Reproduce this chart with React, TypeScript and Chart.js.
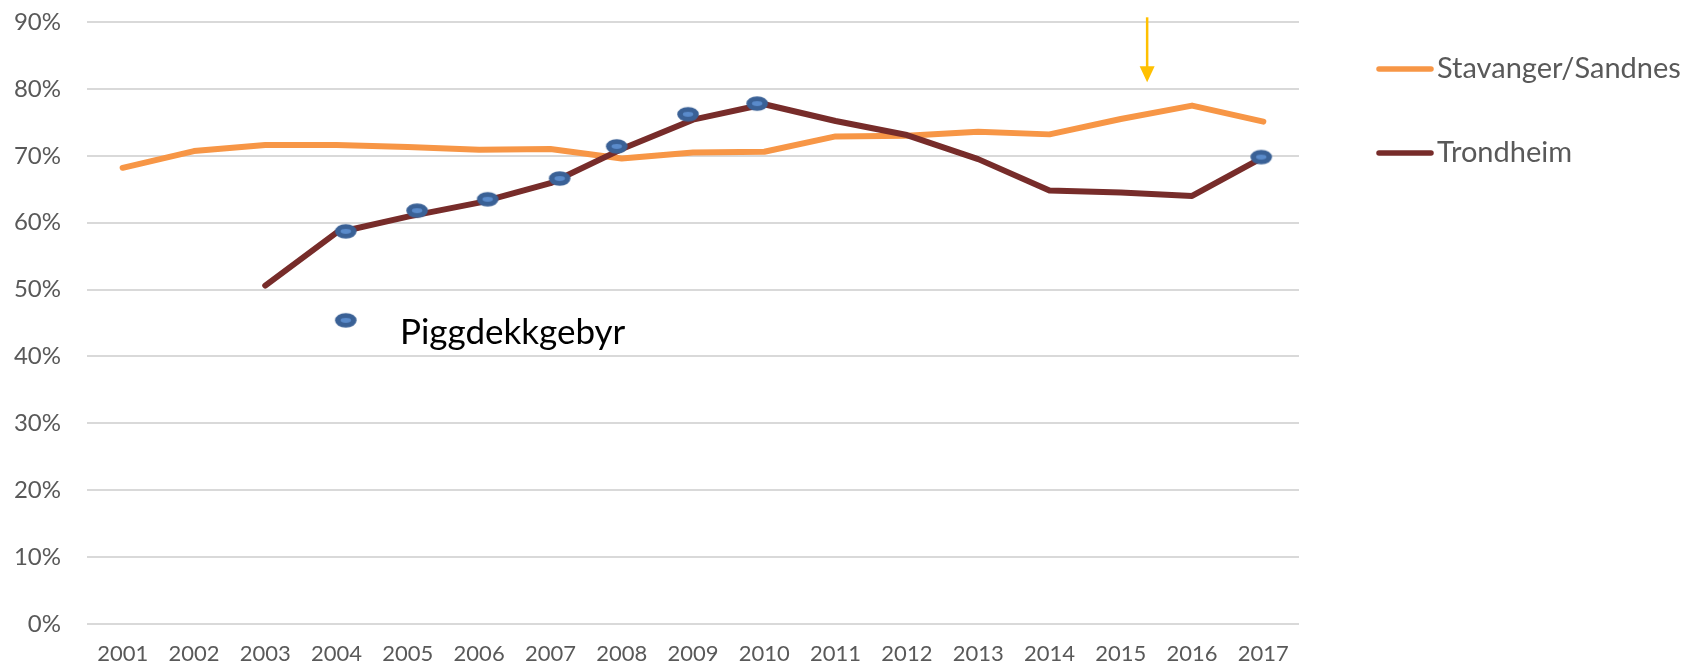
import React, { useEffect, useRef } from "react";
import { Chart, registerables } from "chart.js";

Chart.register(...registerables);

const years = [2001, 2002, 2003, 2004, 2005, 2006, 2007, 2008, 2009, 2010, 2011, 2012, 2013, 2014, 2015, 2016, 2017];
const stavanger = [68.2, 70.7, 71.6, 71.6, 71.3, 70.9, 71.0, 69.6, 70.5, 70.6, 72.9, 73.0, 73.6, 73.2, 75.5, 77.5, 75.1];
const trondheim = [null, null, 50.6, 58.5, 60.9, 63.0, 65.9, 71.0, 75.4, 77.7, 75.2, 73.1, 69.5, 64.8, 64.5, 64.0, 69.8];
const dotX = [2004.13, 2005.13, 2006.12, 2007.13, 2007.93, 2008.93, 2009.9, 2016.97];
const dotY = [58.7, 61.8, 63.5, 66.6, 71.4, 76.2, 77.8, 69.8];
const markerX = [2004.13];
const markerY = [45.4];
const markerLabel = "Piggdekkgebyr";
const arrowX = 2015.37;
const arrowTop = 90.7;
const arrowTip = 81.0;
const labelX = 2004.89;
const labelY = 41.9;
const yTicks = [0, 10, 20, 30, 40, 50, 60, 70, 80, 90];

const ORANGE = "#F79646";
const DARKRED = "#772C2A";
const FONT = "Lato";

function makeDot(): HTMLCanvasElement {
  const c = document.createElement("canvas");
  c.width = 24;
  c.height = 17;
  const g = c.getContext("2d")!;
  g.fillStyle = "#3A6196";
  g.beginPath();
  g.ellipse(12, 8.5, 10.8, 7.3, 0, 0, Math.PI * 2);
  g.fill();
  g.fillStyle = "#5A8BCB";
  g.beginPath();
  g.ellipse(12, 8.5, 5.2, 2.4, 0, 0, Math.PI * 2);
  g.fill();
  return c;
}

export default function App() {
  const ref = useRef<HTMLCanvasElement | null>(null);
  useEffect(() => {
    if (!ref.current) return;
    const dot = makeDot();
    const overlay = {
      id: "overlay",
      afterDatasetsDraw(chart: any) {
        const ctx = chart.ctx;
        const xs = chart.scales.x;
        const ys = chart.scales.y;
        ctx.save();
        // arrow
        const ax = xs.getPixelForValue(arrowX);
        const aTop = ys.getPixelForValue(arrowTop);
        const aTip = ys.getPixelForValue(arrowTip);
        ctx.strokeStyle = "#FFC000";
        ctx.fillStyle = "#FFC000";
        ctx.lineWidth = 2.5;
        ctx.beginPath();
        ctx.moveTo(ax, aTop);
        ctx.lineTo(ax, aTip - 10);
        ctx.stroke();
        ctx.beginPath();
        ctx.moveTo(ax - 7.5, aTip - 16);
        ctx.lineTo(ax + 7.5, aTip - 16);
        ctx.lineTo(ax, aTip);
        ctx.closePath();
        ctx.fill();
        // annotation text
        ctx.fillStyle = "#000000";
        ctx.font = `35px ${FONT}`;
        ctx.textAlign = "left";
        ctx.textBaseline = "alphabetic";
        ctx.fillText(markerLabel, xs.getPixelForValue(labelX), ys.getPixelForValue(labelY));
        // legend
        const items = [chart.data.datasets[2], chart.data.datasets[1]];
        const rows = [69, 153];
        items.forEach((ds: any, i: number) => {
          const y = rows[i];
          ctx.strokeStyle = ds.borderColor;
          ctx.lineWidth = 5.5;
          ctx.lineCap = "round";
          ctx.beginPath();
          ctx.moveTo(1379, y);
          ctx.lineTo(1431, y);
          ctx.stroke();
          ctx.fillStyle = "#595959";
          ctx.font = `29px ${FONT}`;
          ctx.textBaseline = "alphabetic";
          ctx.fillText(ds.label, 1437, y + 9);
        });
        ctx.restore();
      },
    };
    const chart = new Chart(ref.current, {
      type: "line",
      data: {
        datasets: [
          {
            label: "Markører",
            data: dotX.map((x, i) => ({ x, y: dotY[i] })),
            showLine: false,
            pointStyle: dot as any,
            pointRadius: 10,
            order: 0,
          },
          {
            label: "Trondheim",
            data: years.map((x, i) => ({ x, y: trondheim[i] })),
            borderColor: DARKRED,
            backgroundColor: DARKRED,
            borderWidth: 6,
            pointRadius: 0,
            borderCapStyle: "round",
            borderJoinStyle: "round",
            spanGaps: false,
            order: 1,
          },
          {
            label: "Stavanger/Sandnes",
            data: years.map((x, i) => ({ x, y: stavanger[i] })),
            borderColor: ORANGE,
            backgroundColor: ORANGE,
            borderWidth: 6,
            pointRadius: 0,
            borderCapStyle: "round",
            borderJoinStyle: "round",
            order: 2,
          },
          {
            label: markerLabel,
            data: markerX.map((x, i) => ({ x, y: markerY[i] })),
            showLine: false,
            pointStyle: dot as any,
            pointRadius: 10,
            order: 0,
          },
        ],
      },
      options: {
        animation: false,
        responsive: false,
        devicePixelRatio: 1,
        layout: { padding: { left: 0, top: 22, right: 391, bottom: 0 } },
        plugins: { legend: { display: false }, tooltip: { enabled: false } },
        scales: {
          x: {
            type: "linear",
            min: 2000.5,
            max: 2017.5,
            afterBuildTicks: (s: any) => {
              s.ticks = years.map((v) => ({ value: v }));
            },
            afterFit: (s: any) => {
              s.height = 42;
              s.paddingLeft = 0;
              s.paddingRight = 0;
            },
            grid: { display: false, drawTicks: false },
            border: { display: false },
            ticks: {
              color: "#595959",
              font: { family: FONT, size: 22 },
              padding: 17,
              maxRotation: 0,
              autoSkip: false,
              callback: (v: any) => String(v),
            },
          },
          y: {
            min: 0,
            max: 90,
            afterBuildTicks: (s: any) => {
              s.ticks = yTicks.map((v) => ({ value: v }));
            },
            afterFit: (s: any) => {
              s.width = 87;
              s.paddingTop = 0;
              s.paddingBottom = 0;
            },
            grid: { color: "#D9D9D9", lineWidth: 2, drawTicks: false },
            border: { display: false },
            ticks: {
              color: "#595959",
              font: { family: FONT, size: 24 },
              padding: 26,
              callback: (v: any) => v + "%",
            },
          },
        },
      },
      plugins: [overlay],
    });
    return () => chart.destroy();
  }, []);
  return (
    <div style={{ position: "absolute", left: 0, top: 0, width: 1690, height: 666, background: "#fff" }}>
      <canvas ref={ref} width={1690} height={666} />
    </div>
  );
}
